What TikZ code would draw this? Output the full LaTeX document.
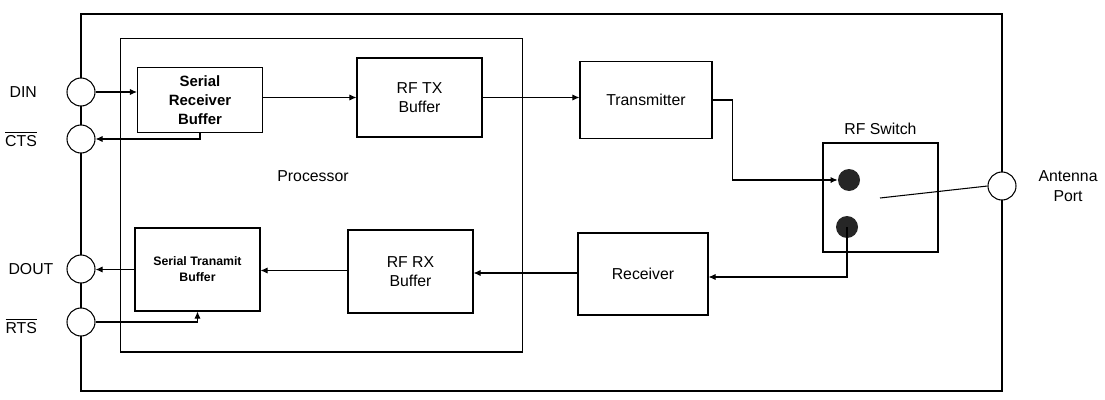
\documentclass[tikz,border=0pt]{standalone}
\usepackage{fontspec}
\setmainfont{Liberation Sans}
\usepackage{tikz}
\usetikzlibrary{positioning,arrows.meta}

\begin{document}
\begin{tikzpicture}[
        x=0.02cm, y=-0.02cm,
        block/.style={draw, line width=0.6pt, align=center, inner sep=1pt,
                      font=\fontsize{9}{11}\selectfont},
        sbuf/.style={block, minimum width=2.5cm, minimum height=1.66cm,
                     font=\bfseries\fontsize{8.5}{11}\selectfont},
        port/.style={draw, circle, fill=white, line width=0.6pt, minimum size=0.56cm, inner sep=0pt},
        dot/.style={circle, fill=black!85, minimum size=0.44cm, inner sep=0pt},
        pin/.style={font=\fontsize{9}{11}\selectfont, inner sep=1pt},
        arrow/.style={-{Latex[length=4pt,width=3.5pt]}, line width=0.6pt},
    ]
        \useasboundingbox (0,0) rectangle (1105,399);

        % module outline and processor
        \draw[line width=1.3pt] (81,14) rectangle (1002,391);
        \node[draw, line width=0.6pt, minimum width=8.04cm, minimum height=6.28cm] (proc) at (321.5,195) {};
        \node[pin] (proclbl) at (313,176) {Processor};

        % blocks
        \node[sbuf, minimum height=1.3cm]       (srb)  at (200,100)   {Serial\\Receiver\\Buffer};
        \node[block, minimum width=2.5cm, minimum height=1.58cm]  (rftx) at (419.5,97.5) {RF TX\\Buffer};
        \node[block, minimum width=2.64cm, minimum height=1.54cm] (tx)   at (646,100)    {Transmitter};
        \node[sbuf, font=\bfseries\fontsize{7}{9}\selectfont] (stb) at (197.5,269.5) {Serial Tranamit\\Buffer};
        \node[block, minimum width=2.5cm, minimum height=1.66cm]  (rfrx) at (410.5,271.5) {RF RX\\Buffer};
        \node[block, minimum width=2.6cm, minimum height=1.64cm]  (rx)   at (643,274)    {Receiver};
        \node[block, minimum width=2.3cm, minimum height=2.18cm]  (sw)   at (880.5,197.5) {};
        \node[pin, above=0.12cm of sw]  (swlbl) {RF Switch};
        \node[dot] (dota) at (849,180) {};
        \node[dot] (dotb) at (847,227) {};
        \coordinate (arm) at (880,198);

        % ports on the outline
        \node[port] (din)  at (81,92)  {};
        \node[port] (cts)  at (81,139) {};
        \node[port] (dout) at (81,269) {};
        \node[port] (rts)  at (81,322) {};
        \node[port] (ant)  at (1002,186) {};
        \node[pin, left=0.55cm of din]  {DIN};
        \node[pin, left=0.55cm of cts]  {$\overline{\mbox{CTS}}$};
        \node[pin, left=0.22cm of dout] {DOUT};
        \node[pin, left=0.55cm of rts, yshift=-0.08cm]  {$\overline{\mbox{RTS}}$};
        \node[pin, right=0.4cm of ant, align=center] {Antenna\\Port};

        % signal paths
        \draw[arrow] (din.east) -- (din -| srb.west);
        \draw[arrow] (srb.south) |- (cts.east);
        \draw[arrow] (srb.east |- rftx.west) -- (rftx.west);
        \draw[arrow] (rftx.east) -- (rftx.east -| tx.west);
        \draw[arrow] (tx.east) -- ++(20,0) |- (dota.west);
        \draw[line width=0.6pt] (arm) -- (ant.west);
        \draw[arrow] (dotb.center) |- ([yshift=-0.06cm]rx.east);
        \draw[arrow] ([yshift=0.02cm]rx.west) -- ([yshift=0.02cm]rx.west -| rfrx.east);
        \draw[arrow] ([yshift=0.02cm]rfrx.west) -- ([yshift=0.02cm]rfrx.west -| stb.east);
        \draw[arrow] (stb.west) -- (stb.west -| dout.east);
        \draw[arrow] (rts.east) -| (stb.south);
    \end{tikzpicture}
\end{document}
